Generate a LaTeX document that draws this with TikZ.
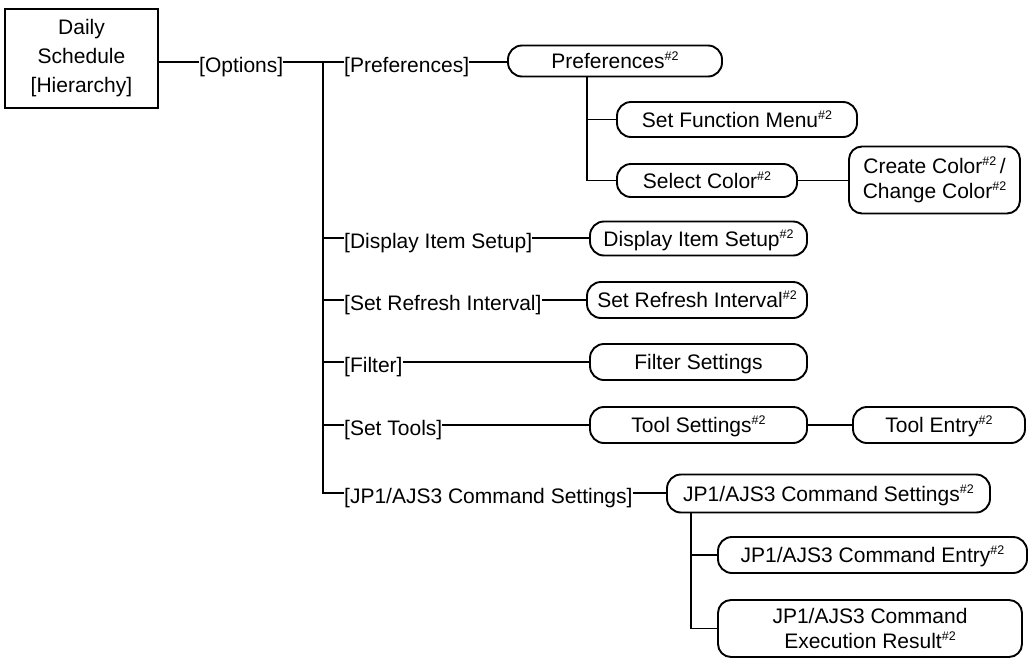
\documentclass[tikz,border=0pt]{standalone}
\usepackage{fontspec}
\setmainfont{Liberation Sans}
\newcommand{\hsh}{\raisebox{8pt}{\fontsize{12.5}{12.5}\selectfont\#2}}
\begin{document}
\begin{tikzpicture}[x=1pt,y=-1pt,
  every node/.style={font=\fontsize{21}{25}\selectfont},
  conn/.style={line width=1.9pt},
  lab/.style={inner sep=0pt, text height=20pt, text depth=0pt, anchor=west},
  rbox/.style={draw, line width=1.9pt, rounded corners=14pt, inner sep=0pt, text height=15pt, text depth=0pt},
  mbox/.style={draw, line width=1.9pt, rounded corners=13pt, inner sep=0pt, align=center},
  sbox/.style={draw, line width=1.9pt, inner sep=0pt, align=center, font=\fontsize{21}{29}\selectfont}
]
\useasboundingbox (0,0) rectangle (1028,659);

% nodes
\node[sbox, minimum width=153pt, minimum height=99pt] (daily) at (81.5,58.5) {Daily\\Schedule\\{}[Hierarchy]};
\node[lab] (opt) at (199,62) {[Options]};
\node[lab] (plab) at (344,62) {[Preferences]};
\node[rbox, minimum width=214pt, minimum height=31pt] (pref) at (615,61) {Preferences\hsh};
\node[rbox, minimum width=240pt, minimum height=35pt] (sfm) at (737,119.5) {Set Function Menu\hsh};
\node[rbox, minimum width=180pt, minimum height=33pt] (selc) at (707,180.5) {Select Color\hsh};
\node[mbox, minimum width=171pt, minimum height=67pt] (create) at (934.5,180) {Create Color\hsh\,/\\Change Color\hsh};

\node[lab] (dlab) at (344,238) {[Display Item Setup]};
\node[rbox, minimum width=217pt, minimum height=34pt] (disp) at (698.5,238.5) {Display Item Setup\hsh};

\node[lab] (rlab) at (344,300) {[Set Refresh Interval]};
\node[rbox, minimum width=220pt, minimum height=36pt] (refr) at (697,300) {Set Refresh Interval\hsh};

\node[lab] (flab) at (344,362) {[Filter]};
\node[rbox, minimum width=217pt, minimum height=36pt] (filt) at (698.5,362) {Filter Settings};

\node[lab] (tlab) at (344,425) {[Set Tools]};
\node[rbox, minimum width=217pt, minimum height=36pt] (tools) at (698.5,425) {Tool Settings\hsh};
\node[rbox, minimum width=172pt, minimum height=36pt] (tentry) at (939,425) {Tool Entry\hsh};

\node[lab] (jlab) at (344,493) {[JP1/AJS3 Command Settings]};
\node[rbox, minimum width=323pt, minimum height=38pt] (jps) at (828.5,493.5) {JP1/AJS3 Command Settings\hsh};
\node[rbox, minimum width=309pt, minimum height=36pt] (jpe) at (872.5,555) {JP1/AJS3 Command Entry\hsh};
\node[mbox, minimum width=304pt, minimum height=57pt] (jpx) at (870,628.5) {JP1/AJS3 Command\\Execution Result\hsh};

% helper coordinates
\coordinate (tr) at (323,0);
\coordinate (pv) at (587,0);
\coordinate (jv) at (691,0);

% connectors
\draw[conn] (daily.east |- opt.west) -- (opt.west);
\draw[conn] (opt.east) -- (plab.west);
\draw[conn] (plab.east) -- (plab.east -| pref.west);
\draw[conn] (tr |- opt.east) |- (jlab.west);
\draw[conn] (tr |- dlab.west) -- (dlab.west);
\draw[conn] (tr |- rlab.west) -- (rlab.west);
\draw[conn] (tr |- flab.west) -- (flab.west);
\draw[conn] (tr |- tlab.west) -- (tlab.west);

\draw[conn] (pref.south -| pv) |- (selc.west);
\draw[conn] (pv |- sfm.west) -- (sfm.west);
\draw[conn] (selc.east) -- (selc.east -| create.west);

\draw[conn] (dlab.east) -- (dlab.east -| disp.west);
\draw[conn] (rlab.east) -- (rlab.east -| refr.west);
\draw[conn] (flab.east) -- (flab.east -| filt.west);
\draw[conn] (tlab.east) -- (tlab.east -| tools.west);
\draw[conn] (tools.east) -- (tentry.west);

\draw[conn] (jlab.east) -- (jlab.east -| jps.west);
\draw[conn] (jps.south -| jv) |- (jpx.west);
\draw[conn] (jv |- jpe.west) -- (jpe.west);
\end{tikzpicture}
\end{document}
